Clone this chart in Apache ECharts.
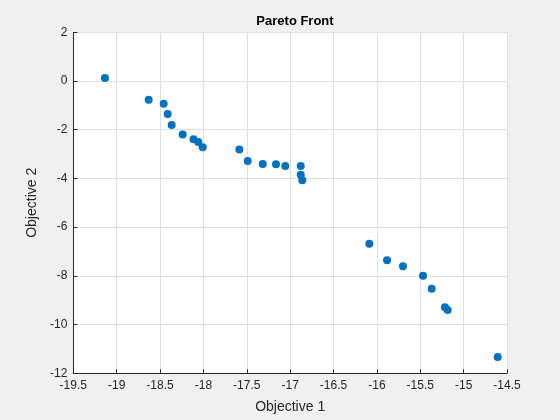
<!DOCTYPE html>
<html>
<head>
<meta charset="utf-8">
<script src="https://cdn.jsdelivr.net/npm/echarts@6/dist/echarts.min.js"></script>
<style>
  html, body { margin: 0; padding: 0; background: #f0f0f0; }
  #main { width: 560px; height: 420px; }
</style>
</head>
<body>
<div id="main"></div>
<script>
// objective values
const obj1 = [-19.135, -18.631, -18.458, -18.412, -18.366, -18.239, -18.114, -18.059, -18.008,
  -17.586, -17.489, -17.316, -17.163, -17.056, -16.878, -16.878, -16.86,
  -16.087, -15.883, -15.699, -15.468, -15.368, -15.215, -15.184, -14.607];
const obj2 = [0.124, -0.767, -0.931, -1.354, -1.805, -2.195, -2.392, -2.503, -2.721,
  -2.811, -3.283, -3.406, -3.419, -3.489, -3.489, -3.846, -4.076,
  -6.678, -7.36, -7.606, -7.992, -8.525, -9.289, -9.4, -11.33];

const points = obj1.map((x, i) => [x, obj2[i]]);

const font = 'Liberation Sans, Arial, Helvetica, sans-serif';
const textColor = '#262626';

const chart = echarts.init(document.getElementById('main'));

const option = {
  backgroundColor: '#f0f0f0',
  animation: false,
  title: {
    text: 'Pareto Front',
    left: 290,
    top: 10,
    textAlign: 'center',
    textStyle: { fontFamily: font, fontSize: 13, fontWeight: 'bold', color: '#000' }
  },
  grid: {
    left: 73.3,
    right: 53,
    top: 32.3,
    bottom: 46.7,
    show: true,
    backgroundColor: '#fff',
    borderWidth: 0
  },
  xAxis: {
    type: 'value',
    min: -19.5,
    max: -14.5,
    interval: 0.5,
    name: 'Objective 1',
    nameLocation: 'middle',
    nameGap: 27,
    nameTextStyle: { fontFamily: font, fontSize: 14, color: textColor },
    axisLine: { show: true, onZero: false, lineStyle: { color: textColor, width: 1 } },
    axisTick: { show: true, inside: true, length: 4, lineStyle: { color: textColor } },
    axisLabel: { fontFamily: font, fontSize: 12, color: textColor, margin: 6 },
    splitLine: { show: true, lineStyle: { color: '#dfdfdf', width: 1 } }
  },
  yAxis: {
    type: 'value',
    min: -12,
    max: 2,
    interval: 2,
    name: 'Objective 2',
    nameLocation: 'middle',
    nameGap: 27,
    nameTextStyle: { fontFamily: font, fontSize: 14, color: textColor },
    axisLine: { show: true, onZero: false, lineStyle: { color: textColor, width: 1 } },
    axisTick: { show: true, inside: true, length: 4, lineStyle: { color: textColor } },
    axisLabel: { fontFamily: font, fontSize: 12, color: textColor, margin: 6 },
    splitLine: { show: true, lineStyle: { color: '#dfdfdf', width: 1 } }
  },
  series: [
    {
      type: 'scatter',
      data: points,
      symbol: 'circle',
      symbolSize: 8,
      itemStyle: { color: '#0072BD', opacity: 1 }
    }
  ]
};

chart.setOption(option);
</script>
</body>
</html>
